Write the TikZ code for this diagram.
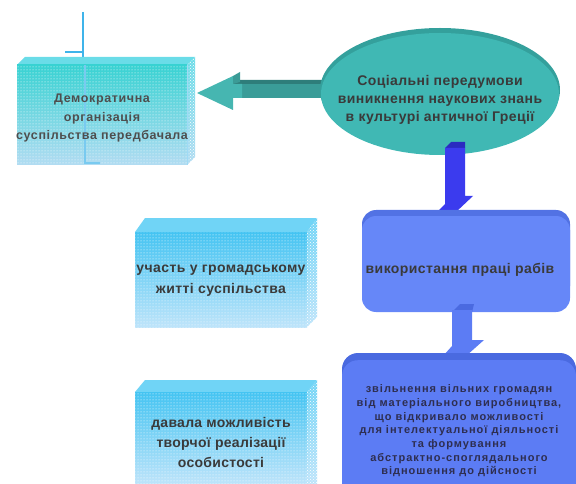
\documentclass[tikz,border=0pt]{standalone}
\usepackage{fontspec}
\setmainfont{Liberation Sans}
\usetikzlibrary{patterns,shapes.geometric}
\definecolor{txt}{HTML}{3A3A3A}
\definecolor{txtb}{HTML}{2E2E50}
\definecolor{ellC}{HTML}{40B8B4}
\definecolor{ellR}{HTML}{34A09C}
\definecolor{tealS}{HTML}{3A9C98}
\definecolor{tealH}{HTML}{46B6B1}
\definecolor{lineC}{HTML}{3FB4EA}
\definecolor{blueA}{HTML}{3B3BEE}
\definecolor{blueAd}{HTML}{2A2AC0}
\definecolor{blueB}{HTML}{6687F8}
\definecolor{blueBd}{HTML}{5272E4}
\definecolor{blueC}{HTML}{5C7CF4}
\definecolor{blueCd}{HTML}{4A6AE0}
\definecolor{boxAt}{HTML}{38D2D2}
\definecolor{boxAb}{HTML}{B2DCF2}
\definecolor{boxAs}{HTML}{6ADCE8}
\definecolor{boxBt}{HTML}{44C4F2}
\definecolor{boxBb}{HTML}{BEE4FA}
\definecolor{boxBs}{HTML}{70D4F6}
\tikzset{
  boxtext/.style={font=\bfseries\fontsize{14}{21}\selectfont\addfontfeatures{LetterSpace=3}, text=txt, align=center, inner sep=0pt},
  dots/.style={pattern=dots, pattern color=white},
}
\begin{document}
\begin{tikzpicture}[x=1pt,y=-1pt]
\useasboundingbox (0,0) rectangle (576,484);
% vertical line above box 1
\draw[lineC, line width=2pt] (83,12) -- (83,60);
\draw[lineC, line width=2pt] (65,52) -- (83,52);
% left box 1
\fill[boxAs] (17,65) -- (25,57) -- (195,57) -- (187,65) -- cycle;
\shade[top color=boxAt, bottom color=boxAb] (17,65) rectangle (187,165);
\fill[dots] (17,65) rectangle (187,165);
\shade[top color=boxAs, bottom color=boxAb] (187,65) -- (195,57) -- (195,157) -- (187,165) -- cycle;
\fill[pattern=crosshatch dots, pattern color=white] (187,65) -- (195,57) -- (195,157) -- (187,165) -- cycle;
\draw[lineC!70, line width=1.5pt] (85,65) -- (85,163) -- (100,163);
\draw[lineC!50, line width=1pt] (187,65) -- (187,165);
\node[boxtext, font=\bfseries\fontsize{12.5}{18.5}\selectfont\addfontfeatures{LetterSpace=5}, text=txt!90] (b1) at (102,118) {Демократична\\організація\\суспільства передбачала};
% teal arrow
\fill[tealS] (232,84) -- (335,84) -- (335,98) -- (232,98) -- cycle;
\fill[tealS!80!black] (232,84) -- (238,80) -- (335,80) -- (335,84) -- cycle;
% ellipse
\fill[ellR] (440,90) ellipse [x radius=120, y radius=62];
\node[ellipse, fill=ellC, minimum width=238pt, minimum height=122pt, inner sep=0pt] (ell) at (440,94) {};
\node[boxtext, font=\bfseries\fontsize{14}{18}\selectfont\addfontfeatures{LetterSpace=3}] (t0) at (440,100) {Соціальні передумови\\виникнення наукових знань\\в культурі античної Греції};
% arrow head teal
\fill[tealH] (197,93) -- (233,76) -- (233,84) -- (242,84) -- (242,98) -- (233,98) -- (233,110) -- cycle;
\fill[tealH!85!black] (233,76) -- (240,72) -- (240,82) -- (233,84) -- cycle;
% blue arrow 1
\fill[blueAd] (445,148) -- (451,142) -- (465,142) -- (465,148) -- cycle;
\fill[blueA] (445,148) -- (465,148) -- (465,196) -- (473,196) -- (456,212) -- (437,212) -- (445,204) -- cycle;
% box 2
\fill[blueBd, rounded corners=14pt] (362,210) rectangle (570,300);
\node[rectangle, rounded corners=14pt, fill=blueB, minimum width=208pt, minimum height=96pt] (b2) at (466,264) {};
\node[boxtext] (t2) at (460,270) {використання праці рабів};
% arrow 2
\fill[blueCd] (452,312) -- (460,304) -- (474,304) -- (472,312) -- cycle;
\fill[blueC] (452,310) -- (472,310) -- (472,340) -- (484,340) -- (466,356) -- (443,356) -- (452,346) -- cycle;
% box 3
\fill[blueCd, rounded corners=16pt] (342,353) rectangle (576,470);
\node[rectangle, rounded corners=16pt, fill=blueC, minimum width=234pt, minimum height=140pt, anchor=north] (b3) at (459,360) {};
\node[boxtext, font=\bfseries\fontsize{11}{13.7}\selectfont\addfontfeatures{LetterSpace=9}, text=txtb] (t3) at (459,431) {звільнення вільних громадян\\від матеріального виробництва,\\що відкривало можливості\\для інтелектуальної діяльності\\та формування\\абстрактно-споглядального\\відношення до дійсності};
% left box 2
\fill[boxBs] (135,232) -- (145,218) -- (317,218) -- (307,232) -- cycle;
\shade[top color=boxBt, bottom color=boxBb] (135,232) rectangle (307,327);
\fill[dots] (135,232) rectangle (307,327);
\shade[top color=boxBs, bottom color=boxBb] (307,232) -- (317,218) -- (317,317) -- (307,327) -- cycle;
\fill[pattern=crosshatch dots, pattern color=white] (307,232) -- (317,218) -- (317,317) -- (307,327) -- cycle;
\node[boxtext] (b4) at (221,281) {участь у громадському\\житті суспільства};
% left box 3
\fill[boxBs] (135,392) -- (145,380) -- (317,380) -- (307,392) -- cycle;
\shade[top color=boxBt, bottom color=boxBb] (135,392) rectangle (307,484);
\fill[dots] (135,392) rectangle (307,484);
\shade[top color=boxBs, bottom color=boxBb] (307,392) -- (317,380) -- (317,484) -- (307,484) -- cycle;
\fill[pattern=crosshatch dots, pattern color=white] (307,392) -- (317,380) -- (317,484) -- (307,484) -- cycle;
\node[boxtext, font=\bfseries\fontsize{14}{20}\selectfont\addfontfeatures{LetterSpace=2}] (b5) at (221,442) {давала можливість\\творчої реалізації\\особистості};
\end{tikzpicture}
\end{document}
